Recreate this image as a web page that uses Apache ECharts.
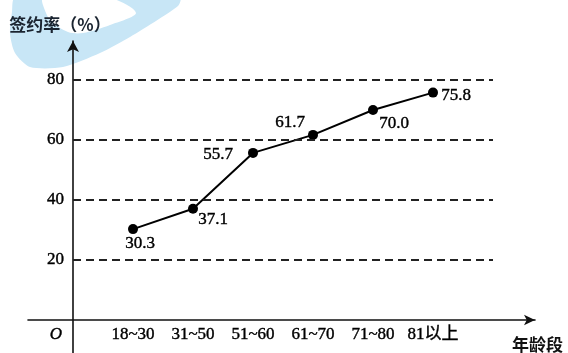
<!DOCTYPE html>
<html>
<head>
<meta charset="utf-8">
<script src="https://cdn.jsdelivr.net/npm/echarts@6/dist/echarts.min.js"></script>
<style>
  html, body { margin: 0; padding: 0; background: #fff; }
  #chart { width: 568px; height: 353px; }
</style>
</head>
<body>
<div id="chart"></div>
<script>
// 年龄段 / 签约率
var categories = ['18~30', '31~50', '51~60', '61~70', '71~80', '81以上'];
var rates = [30.3, 37.1, 55.7, 61.7, 70.0, 75.8];
var yTicks = [20, 40, 60, 80];

var serif = "'Liberation Serif', 'Noto Sans CJK SC', serif";
var cjk = "'Noto Sans CJK SC', sans-serif";

// where each value label sits relative to its point
var labelOffsets = [[7, 14], [20, 11], [-35, 2], [-23, -12], [21, 14], [23, 3]];

var points = rates.map(function (v, i) {
    return {
        value: [i + 1, v],
        label: { offset: labelOffsets[i] }
    };
});

var gridLines = yTicks.map(function (v) {
    return [{ coord: [0, v] }, { coord: [7, v] }];
});

// scanned print looks a little heavier than plain Times
var ink = { color: '#000', textBorderColor: '#000', textBorderWidth: 0.4 };

var myChart = echarts.init(document.getElementById('chart'));

myChart.setOption({
    animation: false,
    backgroundColor: '#fff',
    grid: { left: 28, right: 33, top: 41, bottom: -27, containLabel: false, outerBoundsMode: 'none' },
    // light blue watermark in the top-left corner of the scan
    graphic: [
        {
            type: 'polygon', z: -10, silent: true,
            shape: {
                smooth: 0.25,
                points: [[15, -2], [180, -2], [178, 6], [130, 37], [100, 53], [63, 67], [30, 67], [15, 53], [10, 33], [12, 12]]
            },
            style: { fill: '#c8e6f6' }
        },
        {
            type: 'polygon', z: -9, silent: true,
            shape: {
                smooth: 0.3,
                points: [[43, -2], [110, -2], [136, 13], [110, 25], [83, 33], [68, 32], [51, 21], [44, 8]]
            },
            style: { fill: '#ffffff' }
        }
    ],
    xAxis: {
        type: 'value',
        min: -0.75,
        max: 7.7,
        interval: 0.25,
        name: '年龄段',
        nameLocation: 'end',
        nameGap: -23,
        nameTextStyle: {
            fontFamily: cjk, fontWeight: 'bold', fontSize: 17, color: '#111',
            verticalAlign: 'top', lineHeight: 50
        },
        axisLine: {
            onZero: true,
            symbol: ['none', 'arrow'],
            symbolSize: [8, 11],
            lineStyle: { color: '#111', width: 1.6 }
        },
        axisTick: { show: false },
        splitLine: { show: false },
        axisLabel: Object.assign({
            margin: -54,
            fontFamily: serif, fontSize: 17,
            formatter: function (v) {
                if (v === 0) return '{o|O}';
                if (Number.isInteger(v) && v >= 1 && v <= categories.length) return categories[v - 1];
                return '';
            },
            rich: {
                o: Object.assign({ fontFamily: serif, fontStyle: 'italic', fontSize: 17, padding: [0, 34, 0, 0] }, ink)
            }
        }, ink)
    },
    yAxis: {
        type: 'value',
        min: -20,
        max: 93,
        interval: 20,
        name: '签约率（%）',
        nameLocation: 'end',
        nameGap: 8,
        nameTextStyle: {
            fontFamily: cjk, fontWeight: 'bold', fontSize: 17, color: '#1a2430',
            padding: [0, 26, 0, 0]
        },
        axisLine: {
            onZero: true,
            symbol: ['none', 'arrow'],
            symbolSize: [9, 11],
            lineStyle: { color: '#111', width: 1.6 }
        },
        axisTick: { show: false },
        splitLine: { show: false },
        axisLabel: Object.assign({
            margin: -36,
            fontFamily: serif, fontSize: 17,
            formatter: function (v) {
                return yTicks.indexOf(v) >= 0 ? String(v) : '';
            }
        }, ink)
    },
    series: [{
        type: 'line',
        data: points,
        symbol: 'circle',
        symbolSize: 10,
        itemStyle: { color: '#000' },
        lineStyle: { color: '#000', width: 2 },
        label: Object.assign({
            show: true,
            position: 'inside',
            align: 'center',
            verticalAlign: 'middle',
            fontFamily: serif, fontSize: 17,
            formatter: function (p) { return p.value[1].toFixed(1); }
        }, ink),
        markLine: {
            silent: true,
            symbol: 'none',
            label: { show: false },
            lineStyle: { color: '#222', width: 1.8, type: [8, 5] },
            data: gridLines
        }
    }]
});
</script>
</body>
</html>
